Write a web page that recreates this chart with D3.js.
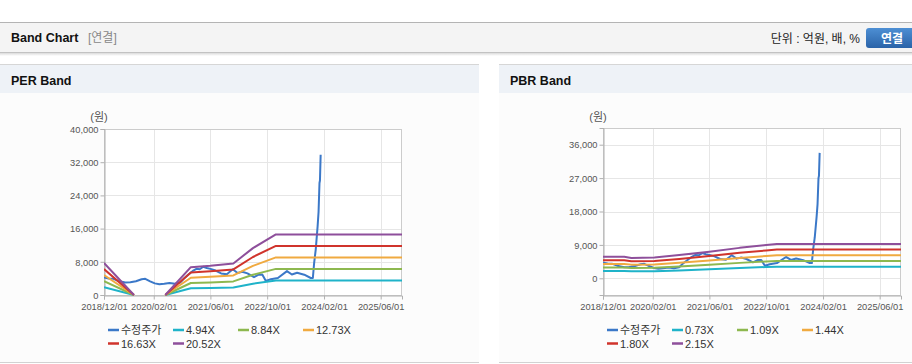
<!DOCTYPE html>
<html>
<head>
<meta charset="utf-8">
<script src="https://cdnjs.cloudflare.com/ajax/libs/d3/7.8.5/d3.min.js"></script>
<style>
    body { margin: 0; background: #fff; overflow: hidden; }
    svg { display: block; font-family: "Liberation Sans", Arial, "Noto Sans CJK KR", sans-serif; }
</style>
</head>
<body>
<svg id="page" width="912" height="364"></svg>
<script>
// series names and colours (legend order)
var seriesColors = ["#3b78c8", "#1fb3c9", "#8db84f", "#f0aa40", "#d0342c", "#8e4f9b"];
var perNames = ["수정주가", "4.94X", "8.84X", "12.73X", "16.63X", "20.52X"];
var pbrNames = ["수정주가", "0.73X", "1.09X", "1.44X", "1.80X", "2.15X"];

// adjusted price (수정주가), shared by both charts
var priceDates = ["2018-12-01", "2019-01-10", "2019-02-20", "2019-04-01", "2019-06-01", "2019-07-15",
    "2019-09-01", "2019-10-20", "2019-11-20", "2020-01-01", "2020-02-10", "2020-03-20", "2020-05-01",
    "2020-06-15", "2020-08-01", "2020-09-15", "2020-10-15", "2020-11-20", "2021-01-01", "2021-02-01",
    "2021-03-01", "2021-04-01", "2021-05-01", "2021-06-01", "2021-07-15", "2021-09-01", "2021-10-20",
    "2021-12-10", "2022-01-20", "2022-03-01", "2022-04-15", "2022-06-10", "2022-07-20", "2022-08-20",
    "2022-09-20", "2022-11-01", "2023-01-01", "2023-03-20", "2023-05-01", "2023-06-15", "2023-08-15",
    "2023-10-10", "2023-10-28", "2023-11-08", "2023-11-22", "2023-12-08", "2023-12-16", "2023-12-24",
    "2023-12-28", "2024-01-03"];
var priceValues = [4200, 4000, 3900, 3400, 3000, 3050,
    3300, 3800, 3900, 3300, 2800, 2600, 2700,
    2900, 2700, 3000, 3900, 4800, 5800, 6300,
    6200, 6800, 6500, 6300, 5900, 5200, 5000,
    6200, 5300, 5600, 5200, 4300, 4900, 4950,
    3400, 3800, 4100, 5750, 4950, 5350, 4900,
    4100, 4100, 7700, 11000, 16600, 20000, 27000,
    27600, 33800];

// PER band (null = no value)
var perDates = ["2018-12-01", "2019-08-15", "2020-01-01", "2020-05-10", "2020-12-15",
    "2021-06-01", "2021-12-15", "2022-06-01", "2022-12-15", "2025-12-01"];
var per494 = [1853, 0, null, 0, 1613, 1697, 1829, 2720, 3514, 3514];
var per884 = [3317, 0, null, 0, 2886, 3037, 3274, 4868, 6290, 6290];
var per1273 = [4777, 0, null, 0, 4157, 4374, 4715, 7011, 9058, 9058];
var per1663 = [6240, 0, null, 0, 5430, 5713, 6159, 9158, 11832, 11832];
var per2052 = [7700, 0, null, 0, 6700, 7050, 7600, 11300, 14600, 14600];

// PBR band
var pbrDates = ["2018-12-01", "2019-06-01", "2019-08-01", "2020-02-15", "2020-09-15",
    "2021-06-01", "2022-02-15", "2022-10-01", "2023-01-01", "2025-12-01"];
var pbr073 = [1969, 1969, 1867, 1901, 2122, 2427, 2784, 3039, 3140, 3140];
var pbr109 = [2941, 2941, 2789, 2839, 3169, 3625, 4157, 4538, 4690, 4690];
var pbr144 = [3885, 3885, 3684, 3751, 4186, 4789, 5492, 5995, 6196, 6196];
var pbr180 = [4856, 4856, 4605, 4688, 5233, 5986, 6865, 7493, 7744, 7744];
var pbr215 = [5800, 5800, 5500, 5600, 6250, 7150, 8200, 8950, 9250, 9250];

var xStart = "2018-12-01", xEnd = "2025-12-01";
var xTicks = ["2018-12-01", "2020-02-01", "2021-06-01", "2022-10-01", "2024-02-01", "2025-06-01"];
var perYTicks = [0, 8000, 16000, 24000, 32000, 40000];
var pbrYTicks = [0, 9000, 18000, 27000, 36000];

var parse = d3.timeParse("%Y-%m-%d");
var fmtDate = d3.timeFormat("%Y/%m/%d");
var fmtNum = d3.format(",");
var svg = d3.select("#page");

function drawChrome() {
    var defs = svg.append("defs");
    var sh = defs.append("linearGradient").attr("id", "shadow").attr("x1", 0).attr("x2", 0).attr("y1", 0).attr("y2", 1);
    sh.append("stop").attr("offset", 0).attr("stop-color", "#000").attr("stop-opacity", 0.14);
    sh.append("stop").attr("offset", 1).attr("stop-color", "#000").attr("stop-opacity", 0);
    var bt = defs.append("linearGradient").attr("id", "btn").attr("x1", 0).attr("x2", 0).attr("y1", 0).attr("y2", 1);
    bt.append("stop").attr("offset", 0).attr("stop-color", "#4d8fd4");
    bt.append("stop").attr("offset", 1).attr("stop-color", "#2a63a8");

    // top bar
    svg.append("rect").attr("x", 0).attr("y", 22).attr("width", 912).attr("height", 31).attr("fill", "#f4f4f4");
    svg.append("rect").attr("x", 0).attr("y", 22).attr("width", 912).attr("height", 1).attr("fill", "#b4b4b4");
    svg.append("rect").attr("x", 0).attr("y", 52).attr("width", 912).attr("height", 1).attr("fill", "#c2c2c2");
    svg.append("rect").attr("x", 0).attr("y", 53).attr("width", 912).attr("height", 3).attr("fill", "url(#shadow)");

    svg.append("text").attr("x", 11).attr("y", 42).attr("font-size", 12.5).attr("font-weight", "bold")
        .attr("fill", "#111").text("Band Chart");
    svg.append("text").attr("x", 88).attr("y", 42).attr("font-size", 12).attr("fill", "#888").text("[연결]");
    svg.append("text").attr("x", 860).attr("y", 43).attr("font-size", 12).attr("fill", "#222")
        .attr("text-anchor", "end").text("단위 : 억원, 배, %");
    svg.append("rect").attr("x", 866).attr("y", 28).attr("width", 52).attr("height", 20).attr("rx", 3)
        .attr("fill", "url(#btn)");
    svg.append("text").attr("x", 892).attr("y", 42.5).attr("font-size", 12).attr("font-weight", "bold")
        .attr("fill", "#fff").attr("text-anchor", "middle").text("연결");

    // panels
    [{x: 0, w: 479, title: "PER Band"}, {x: 499, w: 413, title: "PBR Band"}].forEach(function (p) {
        svg.append("rect").attr("x", p.x).attr("y", 64).attr("width", p.w).attr("height", 299).attr("fill", "#fcfcfc");
        svg.append("rect").attr("x", p.x).attr("y", 64).attr("width", p.w).attr("height", 1).attr("fill", "#d6d6d6");
        svg.append("rect").attr("x", p.x).attr("y", 65).attr("width", p.w).attr("height", 28).attr("fill", "#eef2f7");
        svg.append("rect").attr("x", p.x).attr("y", 362).attr("width", p.w).attr("height", 1).attr("fill", "#d2d2d2");
        svg.append("text").attr("x", p.x + 11).attr("y", 85).attr("font-size", 12.5).attr("font-weight", "bold")
            .attr("fill", "#111").text(p.title);
    });
}

function drawChart(c) {
    var x = d3.scaleTime()
        .domain([parse(xStart), parse(xEnd)])
        .range([c.left, c.right]);
    var y = d3.scaleLinear()
        .domain(c.yDomain)
        .range([c.bottom, c.top]);

    var g = svg.append("g");

    g.append("rect").attr("x", c.left).attr("y", c.top)
        .attr("width", c.right - c.left).attr("height", c.bottom - c.top)
        .attr("fill", "#fff");

    // grid
    g.selectAll(".hgrid").data(c.yTicks).enter().append("line")
        .attr("x1", c.left).attr("x2", c.right)
        .attr("y1", function (d) { return Math.round(y(d)) + 0.5; })
        .attr("y2", function (d) { return Math.round(y(d)) + 0.5; })
        .attr("stroke", "#e6e6e6");
    g.selectAll(".vgrid").data(xTicks).enter().append("line")
        .attr("x1", function (d) { return Math.round(x(parse(d))) + 0.5; })
        .attr("x2", function (d) { return Math.round(x(parse(d))) + 0.5; })
        .attr("y1", c.top).attr("y2", c.bottom)
        .attr("stroke", "#e6e6e6");

    g.append("rect").attr("x", c.left + 0.5).attr("y", c.top + 0.5)
        .attr("width", c.right - c.left - 1).attr("height", c.bottom - c.top)
        .attr("fill", "none").attr("stroke", "#cccccc");

    // axes
    var yAxis = g.append("g")
        .attr("transform", "translate(" + (c.left + 0.5) + ",0)")
        .call(d3.axisLeft(y).tickValues(c.yTicks).tickSize(4).tickPadding(2).tickFormat(fmtNum));
    var xAxis = g.append("g")
        .attr("transform", "translate(0," + (c.bottom + 0.5) + ")")
        .call(d3.axisBottom(x).tickValues(xTicks.map(parse)).tickSize(4).tickPadding(4).tickFormat(fmtDate));
    [yAxis, xAxis].forEach(function (a) {
        a.select(".domain").attr("stroke", "#b0b0b0");
        a.selectAll(".tick line").attr("stroke", "#b0b0b0");
        a.selectAll(".tick text").attr("fill", "#555").attr("font-size", 9.3)
            .attr("font-family", "Liberation Sans, Arial, sans-serif");
    });
    yAxis.selectAll(".tick text").attr("dy", "0.35em");

    g.append("text").attr("x", c.left - 5).attr("y", 121).attr("text-anchor", "middle")
        .attr("font-size", 11).attr("fill", "#555").text("(원)");

    // lines
    var clipId = "clip" + c.left;
    svg.select("defs").append("clipPath").attr("id", clipId)
        .append("rect").attr("x", c.left).attr("y", c.top - 2)
        .attr("width", c.right - c.left).attr("height", c.bottom - c.top + 4);

    var line = d3.line()
        .defined(function (d) { return d[1] !== null; })
        .x(function (d) { return x(d[0]); })
        .y(function (d) { return y(d[1]); });

    var series = [d3.zip(priceDates.map(parse), priceValues)];
    c.bands.forEach(function (b) {
        series.push(d3.zip(c.bandDates.map(parse), b));
    });

    g.append("g").attr("clip-path", "url(#" + clipId + ")")
        .selectAll("path").data(series).enter().append("path")
        .attr("d", line)
        .attr("fill", "none")
        .attr("stroke", function (d, i) { return seriesColors[i]; })
        .attr("stroke-width", 2)
        .attr("stroke-linejoin", "round");

    // legend
    var legend = g.selectAll(".legend").data(c.names).enter().append("g")
        .attr("transform", function (d, i) {
            return "translate(" + (c.legendX + (i % 4) * 65) + "," + (i < 4 ? 330 : 343.5) + ")";
        });
    legend.append("line").attr("x1", 0).attr("x2", 11).attr("y1", 0).attr("y2", 0)
        .attr("stroke", function (d, i) { return seriesColors[i]; })
        .attr("stroke-width", 2.5);
    legend.append("text").attr("x", 13).attr("y", 4).attr("font-size", 11).attr("fill", "#333")
        .text(function (d) { return d; });
}

drawChrome();

drawChart({
    left: 104, right: 402, top: 129, bottom: 295,
    yDomain: [0, 40000], yTicks: perYTicks,
    bandDates: perDates, bands: [per494, per884, per1273, per1663, per2052],
    names: perNames, legendX: 108
});

drawChart({
    left: 603, right: 901, top: 128, bottom: 295,
    yDomain: [-4500, 40500], yTicks: pbrYTicks,
    bandDates: pbrDates, bands: [pbr073, pbr109, pbr144, pbr180, pbr215],
    names: pbrNames, legendX: 607
});
</script>
</body>
</html>
